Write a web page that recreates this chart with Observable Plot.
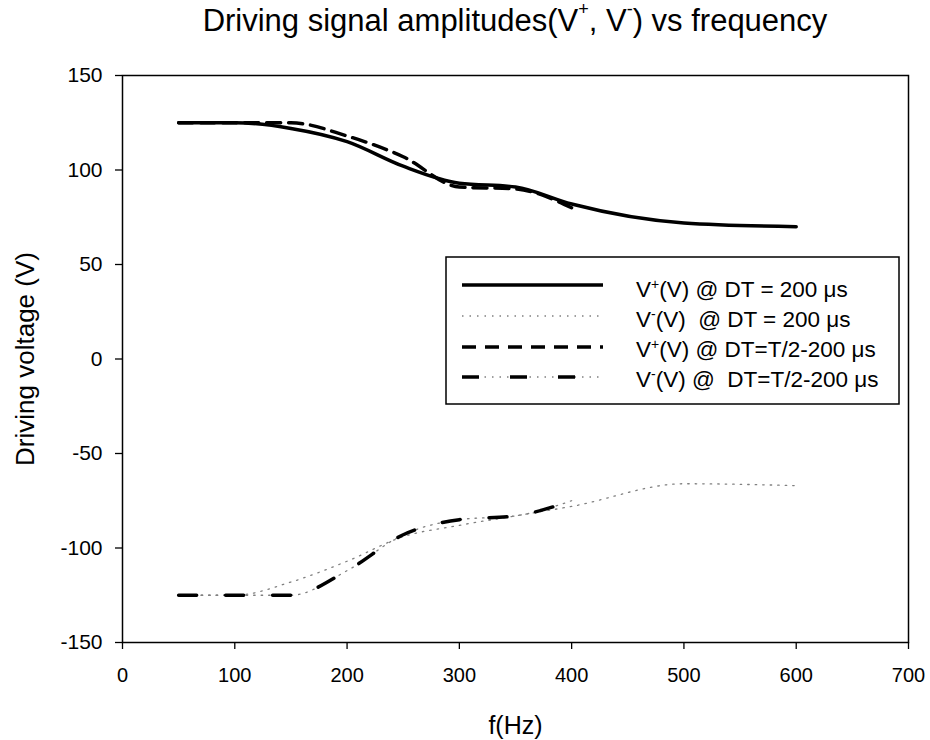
<!DOCTYPE html>
<html>
<head>
<meta charset="utf-8">
<script src="https://cdn.jsdelivr.net/npm/d3@7"></script>
<script src="https://cdn.jsdelivr.net/npm/@observablehq/plot@0.6"></script>
<style>
  body { margin: 0; background: #fff; }
  #wrap { position: relative; width: 930px; height: 740px; background: #fff;
          font-family: Arial, "Liberation Sans", Helvetica, sans-serif; color: #000; }
  #title { position: absolute; left: 0; top: 5px; width: 1030px; text-align: center;
           font-size: 31px; line-height: 31px; white-space: nowrap; }
  #title .sup { font-size: 18px; position: relative; top: -16px; }
  #chart { position: absolute; left: 0; top: 60px; }
  #legend { position: absolute; left: 445px; top: 256px; }
</style>
</head>
<body>
<div id="wrap">
  <div id="title">Driving signal amplitudes(V<span class="sup">+</span>, V<span class="sup">-</span>) vs frequency</div>
  <div id="chart"></div>
  <svg id="legend" width="455" height="149"></svg>
</div>
<script>
// ---- data ----
const freq      = [50, 100, 150, 200, 250, 300, 350, 400, 500, 600];
const freqShort = [50, 100, 150, 200, 250, 300, 350, 400];
const vPlus200  = [125, 125, 122, 115, 102, 93, 91, 82, 72, 70];
const vMinus200 = [-125, -125, -118, -107, -94, -88, -83, -78, -66, -67];
const vPlusHalf = [125, 125, 125, 118, 107, 91, 90, 80];
const vMinusHalf= [-125, -125, -125, -112, -93, -85, -83, -75];
const xTicks = [0, 100, 200, 300, 400, 500, 600, 700];
const yTicks = [-150, -100, -50, 0, 50, 100, 150];
const xLabel = "f(Hz)";
const yLabel = "Driving voltage (V)";
const legendNames = [
  ["V", "+", "(V) @ DT = 200 \u03bcs"],
  ["V", "-", "(V)  @ DT = 200 \u03bcs"],
  ["V", "+", "(V) @ DT=T/2-200 \u03bcs"],
  ["V", "-", "(V) @  DT=T/2-200 \u03bcs"]
];

const toRows = (xs, ys) => xs.map((f, i) => ({f, v: ys[i]}));
const sPlus200 = toRows(freq, vPlus200);
const sMinus200 = toRows(freq, vMinus200);
const sPlusHalf = toRows(freqShort, vPlusHalf);
const sMinusHalf = toRows(freqShort, vMinusHalf);

const styles = [
  [{stroke: "#000", strokeWidth: 3.5}],
  [{stroke: "#808080", strokeWidth: 1.3, strokeDasharray: "1.5,6"}],
  [{stroke: "#000", strokeWidth: 3.5, strokeDasharray: "14,8"}],
  [{stroke: "#808080", strokeWidth: 1.3, strokeDasharray: "1.5,6"},
   {stroke: "#000", strokeWidth: 3.5, strokeDasharray: "18,29"}]
];

const line = (data, st) => Plot.line(data, {x: "f", y: "v", curve: "monotone-x", ...st});

const chart = Plot.plot({
  width: 930,
  height: 680,
  marginTop: 15,
  marginBottom: 98,
  marginLeft: 122,
  marginRight: 22,
  style: {fontFamily: 'Arial, "Liberation Sans", Helvetica, sans-serif', background: "#fff", color: "#000", overflow: "visible"},
  x: {domain: [0, 700]},
  y: {domain: [-150, 150]},
  marks: [
    Plot.axisX({ticks: xTicks, tickSize: 7, tickPadding: 18, fontSize: 20, strokeWidth: 1.3, label: null, tickFormat: d => String(d)}),
    Plot.axisY({ticks: yTicks, tickSize: 7, tickPadding: 13, fontSize: 21, strokeWidth: 1.3, label: null, tickFormat: d => String(d)}),
    Plot.frame({stroke: "#000", strokeWidth: 1.5}),
    line(sMinus200, styles[1][0]),
    line(sMinusHalf, styles[3][0]),
    line(sMinusHalf, styles[3][1]),
    line(sPlusHalf, styles[2][0]),
    line(sPlus200, styles[0][0]),
    Plot.text([xLabel], {text: d => d, frameAnchor: "bottom", dy: 83, lineAnchor: "middle", fontSize: 25}),
    Plot.text([yLabel], {text: d => d, frameAnchor: "left", dx: -97, rotate: -90, lineAnchor: "middle", textAnchor: "middle", fontSize: 26})
  ]
});
document.getElementById("chart").appendChild(chart);

// ---- legend (overlay box) ----
const leg = d3.select("#legend");
leg.append("rect").attr("x", 1).attr("y", 1).attr("width", 453).attr("height", 147)
  .attr("fill", "#fff").attr("stroke", "#000").attr("stroke-width", 1.5);
const lineYs = [29, 60, 91, 121];
const textYs = [41, 71, 101, 131];
const legendDash = [
  [{stroke: "#000", strokeWidth: 3.5}],
  [{stroke: "#808080", strokeWidth: 1.3, strokeDasharray: "1.5,6"}],
  [{stroke: "#000", strokeWidth: 3.5, strokeDasharray: "14,9"}],
  [{stroke: "#808080", strokeWidth: 1.3, strokeDasharray: "1.5,6"},
   {stroke: "#000", strokeWidth: 3.5, strokeDasharray: "17,31"}]
];
legendNames.forEach((nm, i) => {
  legendDash[i].forEach(st => {
    leg.append("line").attr("x1", 17).attr("x2", 158).attr("y1", lineYs[i]).attr("y2", lineYs[i])
      .attr("stroke", st.stroke).attr("stroke-width", st.strokeWidth)
      .attr("stroke-dasharray", st.strokeDasharray || null);
  });
  const t = leg.append("text").attr("x", 191).attr("y", textYs[i])
    .attr("font-family", 'Arial, "Liberation Sans", Helvetica, sans-serif').attr("font-size", 22.5)
    .style("white-space", "pre").attr("xml:space", "preserve");
  t.append("tspan").text(nm[0]);
  t.append("tspan").attr("dy", -8).attr("font-size", 14).text(nm[1]);
  t.append("tspan").attr("dy", 8).text(nm[2]);
});
</script>
</body>
</html>
